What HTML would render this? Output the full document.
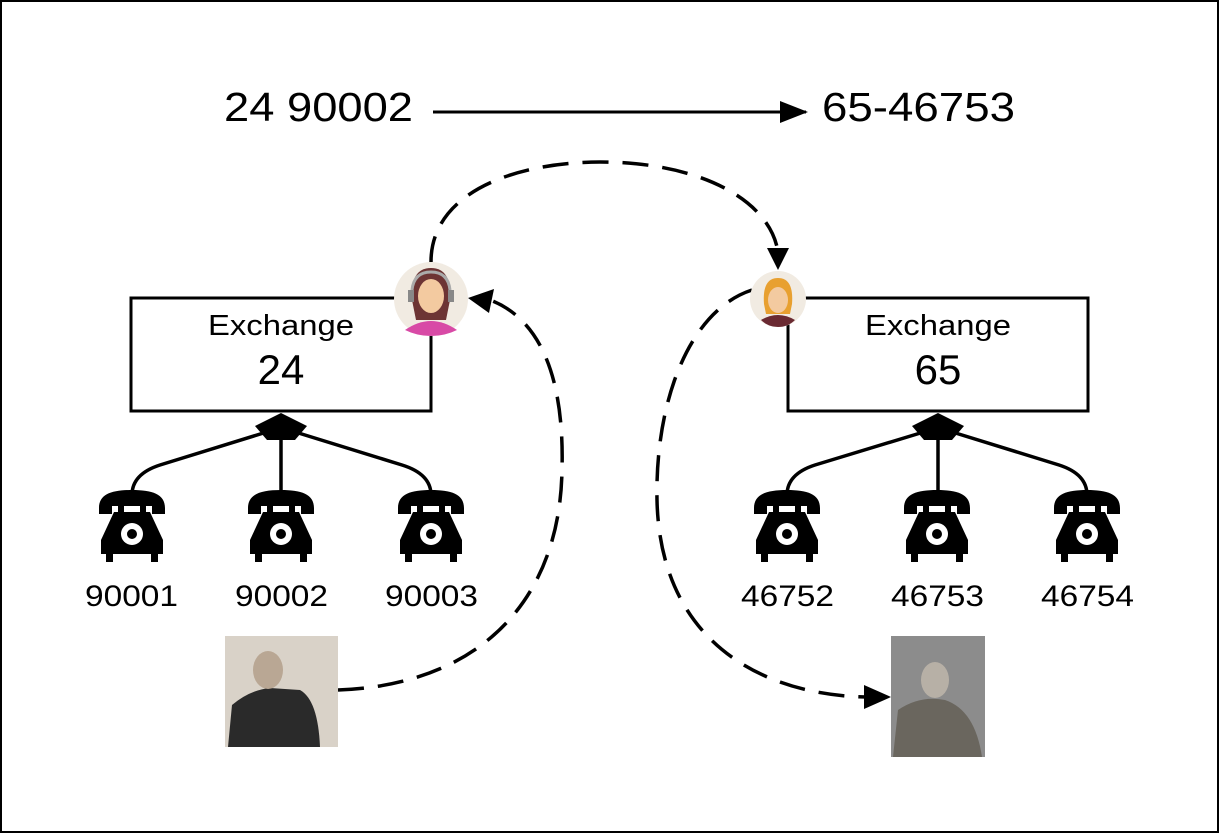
<!DOCTYPE html>
<html><head><meta charset="utf-8"><style>
html,body{margin:0;padding:0;background:#fff}
svg{display:block}
text{font-family:"Liberation Sans",Arial,sans-serif;fill:#000}
</style></head><body>
<svg width="1219" height="833" viewBox="0 0 1219 833" xmlns="http://www.w3.org/2000/svg">
<defs>
<marker id="ab" markerWidth="28" markerHeight="22" refX="26" refY="11" orient="auto" markerUnits="userSpaceOnUse" viewBox="0 0 28 22">
<path d="M0,0 L28,11 L0,22 z" fill="#000"/></marker>
<g id="phone">
<path d="M-33,8 C-33,-6 -20,-10 0,-10 C20,-10 33,-6 33,8 L33,14 L20,14 L20,6 L-20,6 L-20,14 L-33,14 Z" fill="#000"/>
<rect x="-14" y="4" width="6" height="8" fill="#000"/><rect x="8" y="4" width="6" height="8" fill="#000"/>
<path d="M-18,12 L18,12 L31,40 L31,54 L-31,54 L-31,40 Z" fill="#000"/>
<rect x="-26" y="52" width="7" height="10" fill="#000"/><rect x="19" y="52" width="7" height="10" fill="#000"/>
<circle cx="0" cy="34" r="11" fill="#fff"/><circle cx="0" cy="34" r="5" fill="#000"/>
</g>
</defs>
<rect x="1" y="1" width="1217" height="831" fill="#fff" stroke="#000" stroke-width="2"/>

<text x="224" y="121" font-size="41" textLength="189" lengthAdjust="spacingAndGlyphs">24 90002</text>
<text x="822" y="121" font-size="41" textLength="193" lengthAdjust="spacingAndGlyphs">65-46753</text>
<line x1="433" y1="112" x2="806" y2="112" stroke="#000" stroke-width="3" marker-end="url(#ab)"/>

<rect x="131" y="298" width="300" height="113" fill="#fff" stroke="#000" stroke-width="3"/>
<text x="208" y="335" font-size="29" textLength="146" lengthAdjust="spacingAndGlyphs">Exchange</text>
<text x="281" y="384" font-size="42" text-anchor="middle">24</text>
<rect x="788" y="298" width="300" height="113" fill="#fff" stroke="#000" stroke-width="3"/>
<text x="865" y="335" font-size="29" textLength="146" lengthAdjust="spacingAndGlyphs">Exchange</text>
<text x="938" y="384" font-size="42" text-anchor="middle">65</text>

<g stroke="#000" stroke-width="3.5" fill="none">
<path d="M270,431 L160,465 Q132,474 132,495"/><line x1="281" y1="431" x2="281" y2="495"/><path d="M292,431 L402,465 Q431,474 431,495"/>
<path d="M927,431 L815,465 Q787,474 787,495"/><line x1="938" y1="431" x2="938" y2="495"/><path d="M949,431 L1059,465 Q1087,474 1087,495"/>
</g>
<path d="M281,413 L307,426 L295,440 L267,440 L255,426 Z" fill="#000"/>
<path d="M938,413 L964,426 L952,440 L924,440 L912,426 Z" fill="#000"/>

<use href="#phone" x="132" y="500"/><use href="#phone" x="281" y="500"/><use href="#phone" x="431" y="500"/>
<use href="#phone" x="787" y="500"/><use href="#phone" x="937" y="500"/><use href="#phone" x="1087" y="500"/>

<g font-size="30">
<text x="85" y="606" textLength="93" lengthAdjust="spacingAndGlyphs">90001</text>
<text x="235" y="606" textLength="93" lengthAdjust="spacingAndGlyphs">90002</text>
<text x="385" y="606" textLength="93" lengthAdjust="spacingAndGlyphs">90003</text>
<text x="741" y="606" textLength="93" lengthAdjust="spacingAndGlyphs">46752</text>
<text x="891" y="606" textLength="93" lengthAdjust="spacingAndGlyphs">46753</text>
<text x="1041" y="606" textLength="93" lengthAdjust="spacingAndGlyphs">46754</text>
</g>

<g stroke="#000" stroke-width="3.5" fill="none" stroke-dasharray="26,14">
<path d="M431,262 C431,190 520,162 600,162 C700,162 770,200 778,252"/>
<path d="M338,690 C480,685 560,600 562,470 C565,360 530,315 490,300"/>
<path d="M752,290 C690,310 655,400 657,500 C660,640 760,695 866,697"/>
</g>
<path d="M767,248 L789,248 L778,270 Z" fill="#000"/>
<path d="M468,298 L494,289 L489,313 Z" fill="#000"/>
<path d="M864,685 L891,697 L864,709 Z" fill="#000"/>

<circle cx="431" cy="299" r="37" fill="#f1ebe2"/>
<path d="M405,330 Q431,312 457,330 Q445,336 431,336 Q417,336 405,330 Z" fill="#d84aa6"/>
<path d="M412,300 Q410,268 431,268 Q452,268 450,300 L446,320 L416,320 Z" fill="#6d3434"/>
<ellipse cx="431" cy="296" rx="13" ry="17" fill="#f3caa0"/>
<path d="M412,290 Q414,272 431,272 Q448,272 450,290" stroke="#aaa" stroke-width="3" fill="none"/>
<rect x="408" y="290" width="6" height="12" fill="#888"/><rect x="448" y="290" width="6" height="12" fill="#888"/>

<circle cx="778" cy="299" r="28" fill="#f1ebe2"/>
<path d="M761,320 Q778,310 795,320 Q788,327 778,327 Q768,327 761,320 Z" fill="#6a2a32"/>
<path d="M764,304 Q762,278 778,278 Q794,278 792,304 L790,314 L766,314 Z" fill="#e8a030"/>
<ellipse cx="778" cy="300" rx="10" ry="13" fill="#f3caa0"/>

<rect x="225" y="636" width="113" height="111" fill="#d9d2c8"/>
<path d="M228,747 L232,705 Q250,690 270,688 L300,690 Q318,700 320,747 Z" fill="#2a2a2a"/>
<ellipse cx="268" cy="670" rx="15" ry="19" fill="#b9a794"/>
<rect x="891" y="636" width="94" height="121" fill="#8c8c8c"/>
<path d="M893,757 L898,710 Q920,695 945,700 Q975,710 982,757 Z" fill="#6a665e"/>
<ellipse cx="935" cy="680" rx="14" ry="18" fill="#b7b0a6"/>
</svg>
</body></html>
